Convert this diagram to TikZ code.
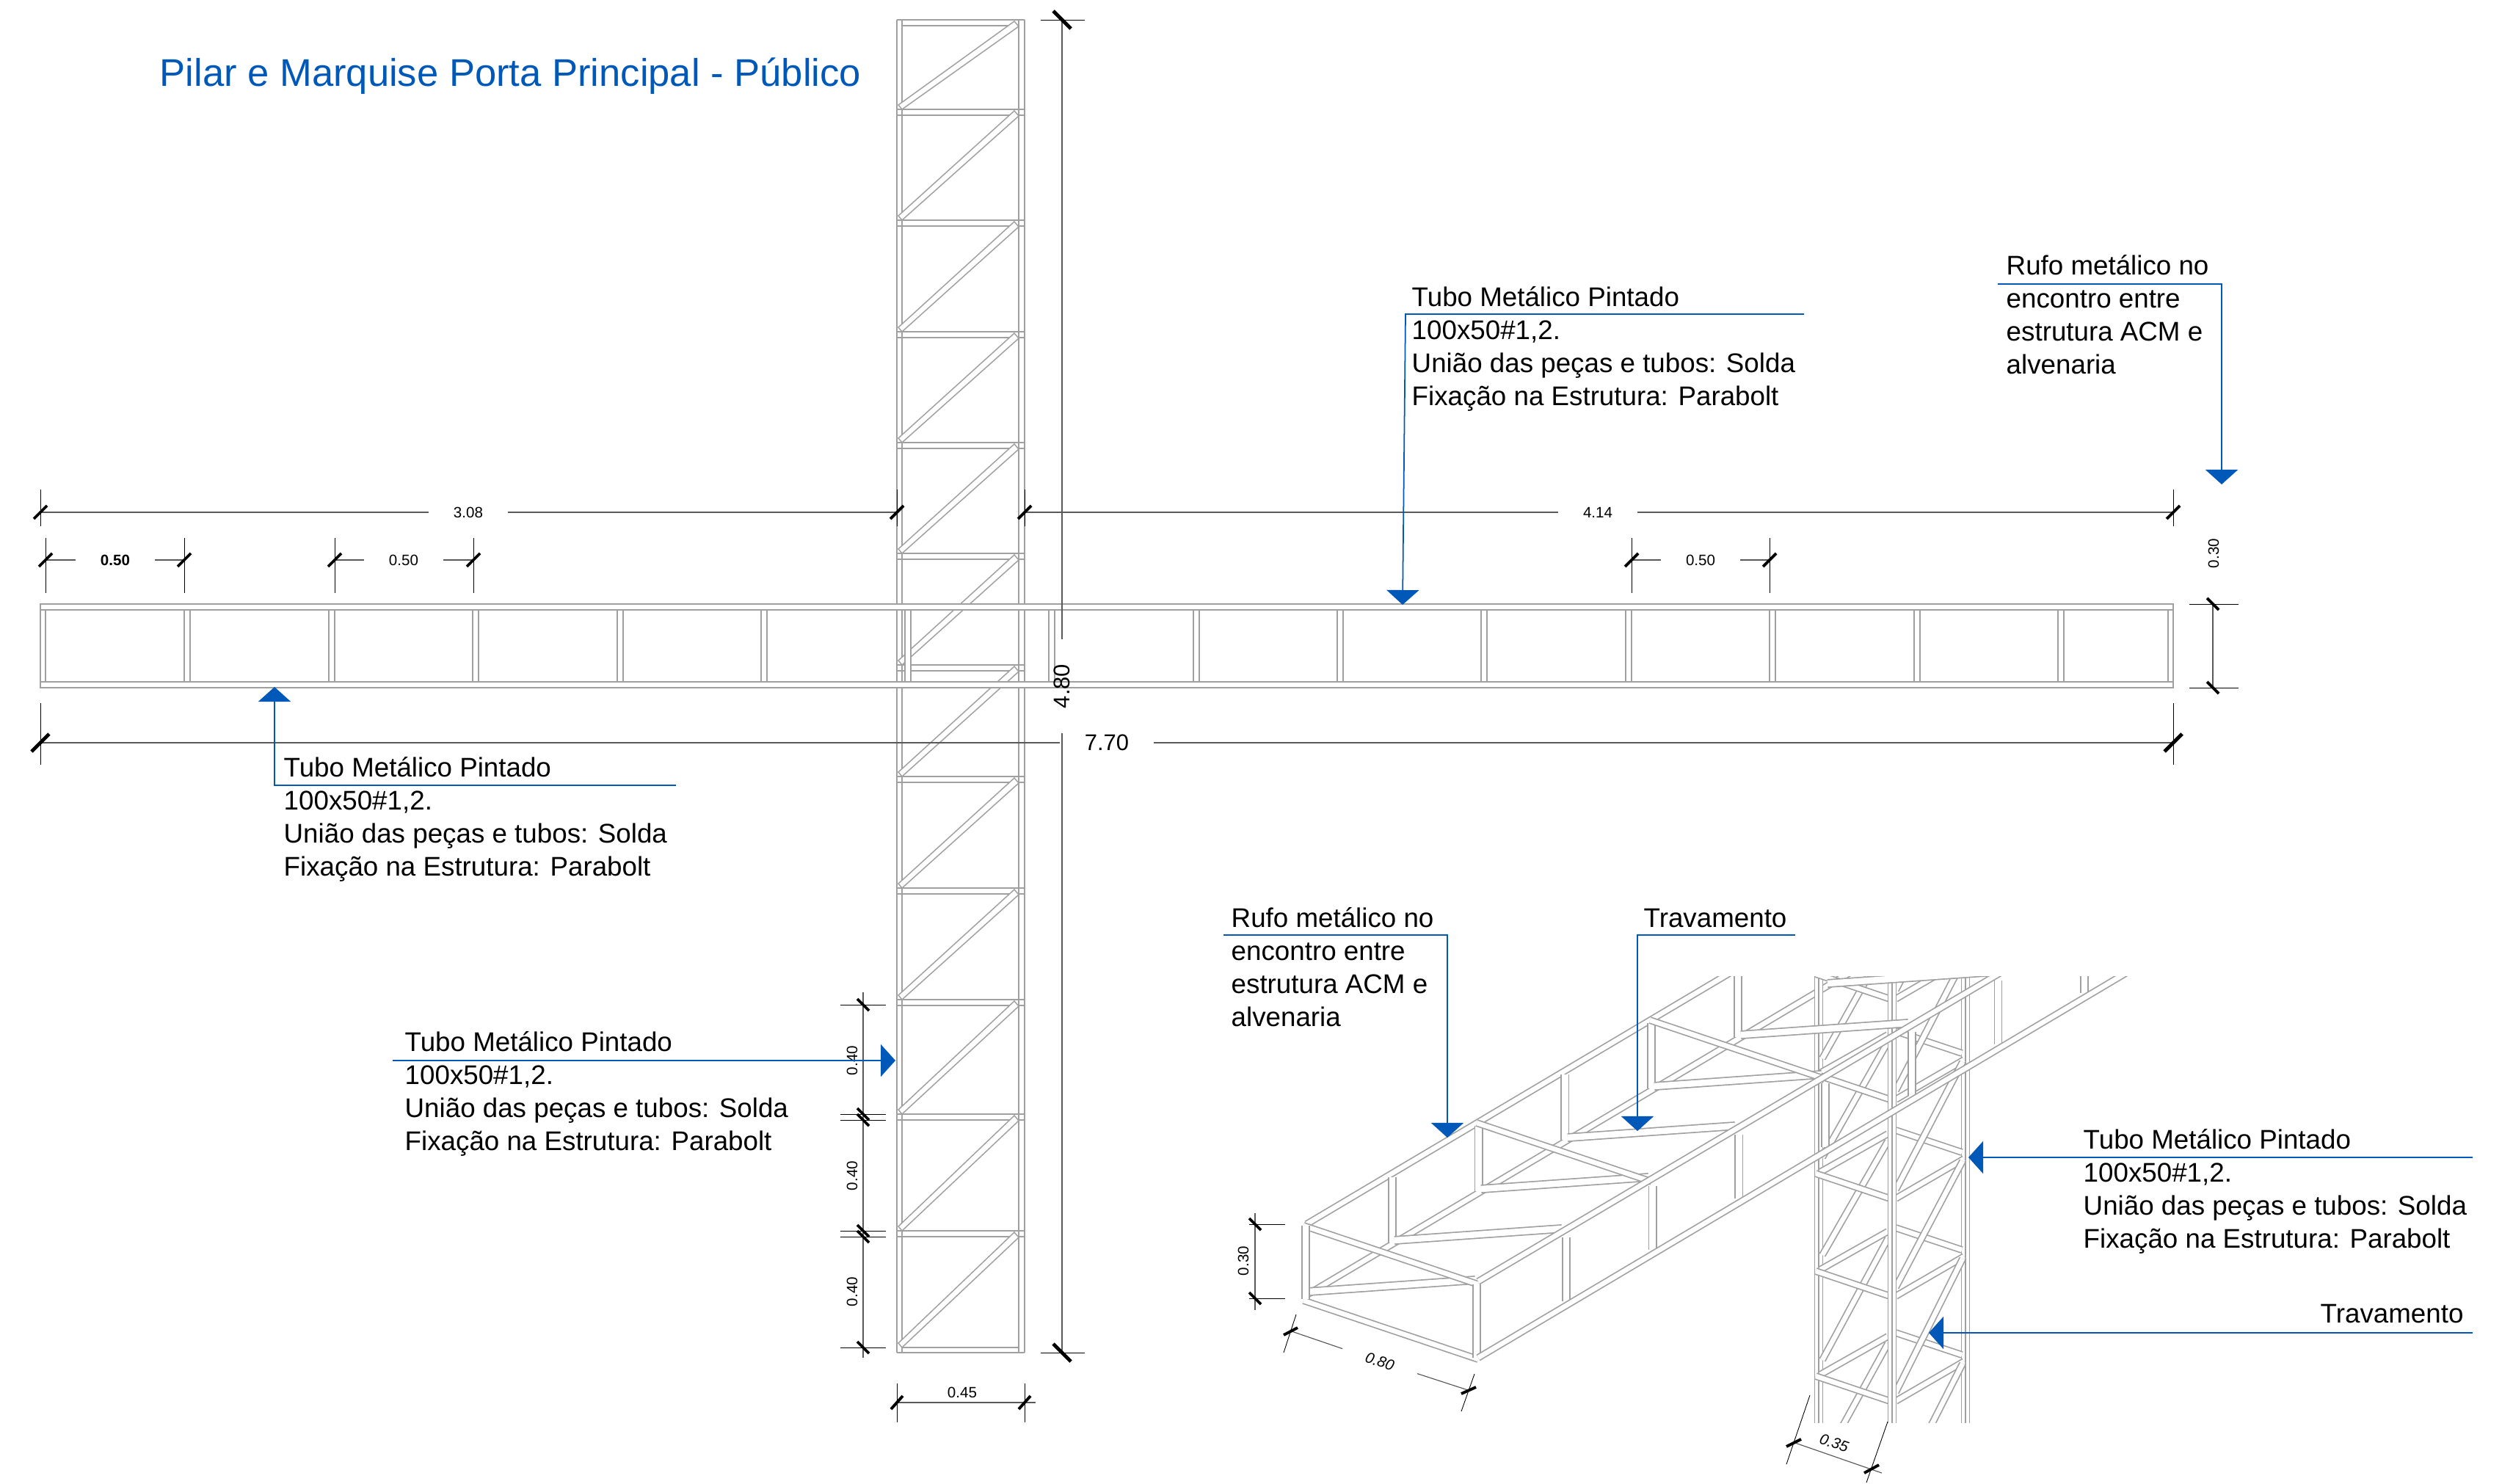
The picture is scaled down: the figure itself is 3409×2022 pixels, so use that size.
\documentclass[tikz,border=0pt]{standalone}
\usepackage{fontspec}
\setmainfont{Liberation Sans}
\usetikzlibrary{arrows.meta}
\definecolor{leadblue}{RGB}{0,88,184}
\definecolor{steelgray}{RGB}{160,160,160}
\tikzset{
  steel/.style={draw=steelgray, line width=0.42pt},
  tube/.style={draw=steelgray, line width=0.48pt, double=white, double distance=#1},
  tube/.default=0.065cm,
  extline/.style={draw=black, line width=0.25pt},
  dimline/.style={draw=black!65, line width=0.33pt},
  dimtick/.style={draw=black, line width=1.1pt},
  bigtick/.style={draw=black, line width=1.4pt},
  dimtext/.style={font=\fontsize{5.85}{7}\selectfont, inner xsep=0.33cm, inner ysep=0pt},
  bigtext/.style={font=\fontsize{8.8}{10}\selectfont, inner xsep=0.33cm, inner ysep=0pt},
  note/.style={font=\fontsize{10.45}{12.8}\selectfont, align=left, anchor=west, inner sep=0pt},
  leader/.style={draw=leadblue, line width=0.5pt, -{Triangle[length=2mm,width=4.4mm,fill=leadblue]}}
}
\begin{document}
\begin{tikzpicture}[x=0.01cm, y=-0.01cm]
  \useasboundingbox (0,0) rectangle (3409,2022);

  \node[font=\fontsize{14.95}{18}\selectfont, text=leadblue, anchor=west, inner sep=0pt] (title) at (217,104) {Pilar e Marquise Porta Principal - Público};

  % column in elevation
  \foreach \x in {1222,1229,1388,1396} \draw[steel] (\x,27) -- (\x,1843);
  \draw[steel] (1222,27) -- (1396,27) (1229,35) -- (1388,35) (1229,1836) -- (1388,1836) (1222,1843) -- (1396,1843);
  \foreach \y in {149,300,452,603,754,906,1058,1210,1362,1518,1677}
    \draw[steel] (1222,\y) -- (1396,\y) (1222,\y+8) -- (1396,\y+8);
  \foreach \T/\B in {35/149,157/300,308/452,460/603,611/754,762/906,914/1058,1066/1210,1218/1362,1370/1518,1526/1677,1685/1836}
    \draw[steel, fill=white] (1224,\B-6) -- (1229,\B) -- (1388,\T+1) -- (1382,\T-6) -- cycle;

  % beam in elevation
  \draw[steel, fill=white] (55,823) rectangle (62,937);
  \draw[steel, fill=white] (2954,823) rectangle (2961,937);
  \draw[steel, fill=white] (55,823) rectangle (2961,831);
  \draw[steel, fill=white] (55,929) rectangle (2961,937);
  \foreach \x in {251,448,644,841,1037,1233,1429,1626,1822,2018,2215,2411,2608,2804}
    \draw[steel, fill=white] (\x,831) rectangle (\x+8,929);

  % marquise and column in perspective
  \begin{scope}
    \clip (1700,1330) rectangle (3000,1938);
    \draw[tube] (1780,1668) -- (2380,1312);
    \draw[tube] (1776,1767) -- (2600,1278);
    \foreach \i in {0,...,4}
      \draw[tube=0.085cm] ({1897+117.7*\i},{1604-70*\i}) -- ({1897+117.7*\i},{1693-70*\i});

    \foreach \x in {2478,2678} {
      \draw[tube=0.095cm] (\x,1320) -- (\x,1950);
      \draw[steel] (\x,1320) -- (\x,1950);
    }
    \foreach \n in {1228,1365,1502,1637,1770,1913,2053} {
      \draw[tube] (2480,\n-40) -- (2572,\n-92);
      \draw[tube] (2583,\n-97) -- (2673,\n-67);
    }
    \foreach \up/\lo in {1228/1365,1365/1502,1502/1637,1637/1770,1770/1913,1913/2053}
      \draw[tube] (2483,\lo-60) -- (2572,\up-82);
    \foreach \n in {1228,1365,1502,1637,1770,1913,2053} {
      \draw[tube] (2474,\n-38) -- (2575,\n-4);
      \draw[tube] (2583,\n-4) -- (2676,\n-58);
    }
    \foreach \up/\lo in {1228/1365,1365/1502,1502/1637,1637/1770,1770/1913,1913/2053}
      \draw[tube] (2583,\lo-16) -- (2674,\up-55);
    \draw[tube=0.095cm] (2578,1320) -- (2578,1950);
    \draw[steel] (2578,1320) -- (2578,1950);

    \foreach \i in {0,...,6}
      \draw[tube=0.085cm] ({1782+118*\i},{1760-70*\i}) -- ({2010+118*\i},{1744-70*\i});
    \foreach \i in {0,2,4}
      \draw[tube] ({1776+118*\i},{1670-70*\i}) -- ({2014+118*\i},{1750-70*\i});
    \draw[tube] (1776,1772) -- (2014,1852);
    \draw[tube=0.085cm] (1779,1670) -- (1779,1770);
    \draw[tube=0.085cm] (2012,1750) -- (2012,1850);
    \foreach \i in {0,...,6}
      \draw[tube=0.085cm] ({2134+117.7*\i},{1686-70*\i}) -- ({2134+117.7*\i},{1773-70*\i});
    \draw[tube] (2014,1746) -- (2760,1305);
    \draw[tube] (2014,1850) -- (2930,1306);
  \end{scope}

  % dimensions of the elevation
  \node[dimtext] (d308) at (638,698) {3.08};
  \draw[dimline] (55,698) -- (d308) (d308) -- (1222,698);
  \node[dimtext] (d414) at (2177,698) {4.14};
  \draw[dimline] (1396,698) -- (d414) (d414) -- (2961,698);
  \foreach \x in {55,1222,1396,2961} {
    \draw[extline] (\x,667) -- (\x,717);
    \draw[dimtick] (\x-9,707) -- (\x+9,689);
  }
  \node[dimtext, font=\fontsize{5.85}{7}\selectfont\bfseries] (d050a) at (157,763) {0.50};
  \draw[dimline] (62,763) -- (d050a) (d050a) -- (251,763);
  \node[dimtext] (d050b) at (550,763) {0.50};
  \draw[dimline] (456,763) -- (d050b) (d050b) -- (645,763);
  \node[dimtext] (d050c) at (2317,763) {0.50};
  \draw[dimline] (2223,763) -- (d050c) (d050c) -- (2411,763);
  \foreach \x in {62,251,456,645,2223,2411} {
    \draw[extline] (\x,733) -- (\x,808);
    \draw[dimtick] (\x-9,772) -- (\x+9,754);
  }
  \node[bigtext] (d770) at (1508,1012) {7.70};
  \draw[dimline] (55,1012) -- (d770) (d770) -- (2961,1012);
  \foreach \x in {55,2961} {
    \draw[extline] (\x,958) -- (\x,1042);
    \draw[bigtick] (\x-12,1024) -- (\x+12,1000);
  }
  \node[bigtext, rotate=90] (d480) at (1447,935) {4.80};
  \draw[dimline] (1447,27) -- (d480) (d480) -- (1447,1843);
  \foreach \y in {27,1843} {
    \draw[extline] (1418,\y) -- (1478,\y);
    \draw[bigtick] (1435,\y-12) -- (1459,\y+12);
  }
  \draw[dimline] (3015,823) -- (3015,937);
  \node[dimtext, rotate=90] (d030a) at (3016,754) {0.30};
  \foreach \y in {823,937} {
    \draw[extline] (2983,\y) -- (3050,\y);
    \draw[dimtick] (3007,\y-8) -- (3023,\y+8);
  }
  \draw[dimline] (1176,1352) -- (1176,1850);
  \node[dimtext, rotate=90] (d040a) at (1161,1445) {0.40};
  \node[dimtext, rotate=90] (d040b) at (1161,1602) {0.40};
  \node[dimtext, rotate=90] (d040c) at (1161,1760) {0.40};
  \foreach \y in {1369,1518,1526,1677,1685,1836} {
    \draw[extline] (1145,\y) -- (1207,\y);
    \draw[dimtick] (1168,\y-8) -- (1184,\y+8);
  }
  \draw[dimline] (1222,1911) -- (1411,1911);
  \node[dimtext] (d045) at (1311,1897) {0.45};
  \foreach \x in {1222,1396} {
    \draw[extline] (\x,1885) -- (\x,1938);
    \draw[dimtick] (\x-8,1920) -- (\x+8,1902);
  }

  % dimensions of the perspective
  \draw[dimline] (1710,1653) -- (1710,1785);
  \node[dimtext, rotate=90] (d030b) at (1694,1718) {0.30};
  \foreach \y in {1668,1769} {
    \draw[extline] (1702,\y) -- (1751,\y);
    \draw[dimtick] (1702,\y-8) -- (1718,\y+8);
  }
  \node[dimtext, rotate=-18.4, font=\fontsize{5.85}{7}\selectfont\itshape] (d080) at (1880,1855) {0.80};
  \draw[dimline] (1757,1813) -- (d080) (d080) -- (2003,1895);
  \draw[extline] (1766,1791) -- (1749,1843) (2009,1872) -- (1991,1923);
  \draw[dimtick] (1749,1819) -- (1768,1809);
  \draw[dimtick] (1991,1899) -- (2011,1890);
  \node[dimtext, rotate=-18.4, font=\fontsize{5.85}{7}\selectfont\itshape] (d035) at (2499,1966) {0.35};
  \draw[dimline] (2443,1965) -- (2564,2007);
  \draw[extline] (2466,1901) -- (2434,1995) (2572,1937) -- (2543,2020);
  \draw[dimtick] (2434,1971) -- (2454,1961);
  \draw[dimtick] (2540,2007) -- (2560,1996);

  % notes and leaders
  \node[note] (tuboA) at (1923,475) {Tubo Metálico Pintado\\100x50\#1,2.\\União das peças e tubos: Solda\\Fixação na Estrutura: Parabolt};
  \node[note] (tuboB) at (386,1116) {Tubo Metálico Pintado\\100x50\#1,2.\\União das peças e tubos: Solda\\Fixação na Estrutura: Parabolt};
  \node[note] (tuboC) at (551,1490) {Tubo Metálico Pintado\\100x50\#1,2.\\União das peças e tubos: Solda\\Fixação na Estrutura: Parabolt};
  \node[note] (tuboD) at (2838,1623) {Tubo Metálico Pintado\\100x50\#1,2.\\União das peças e tubos: Solda\\Fixação na Estrutura: Parabolt};
  \node[note] (rufoA) at (2733,429) {Rufo metálico no\\encontro entre\\estrutura ACM e\\alvenaria};
  \node[note] (rufoB) at (1677,1318) {Rufo metálico no\\encontro entre\\estrutura ACM e\\alvenaria};
  \node[note] (travaA) at (2239,1251) {Travamento};
  \node[note] (travaB) at (3161,1790) {Travamento};

  \draw[leader] (2458,428) -- (1915,428) -- (1911,824);
  \draw[leader] (921,1070) -- (374,1070) -- (374,936);
  \draw[leader] (535,1445) -- (1220,1445);
  \draw[leader] (2722,387) -- (3027,387) -- (3027,660);
  \draw[leader] (1667,1274) -- (1972,1274) -- (1972,1550);
  \draw[leader] (2446,1274) -- (2231,1274) -- (2231,1541);
  \draw[leader] (3369,1577) -- (2682,1577);
  \draw[leader] (3369,1816) -- (2628,1816);
\end{tikzpicture}
\end{document}
